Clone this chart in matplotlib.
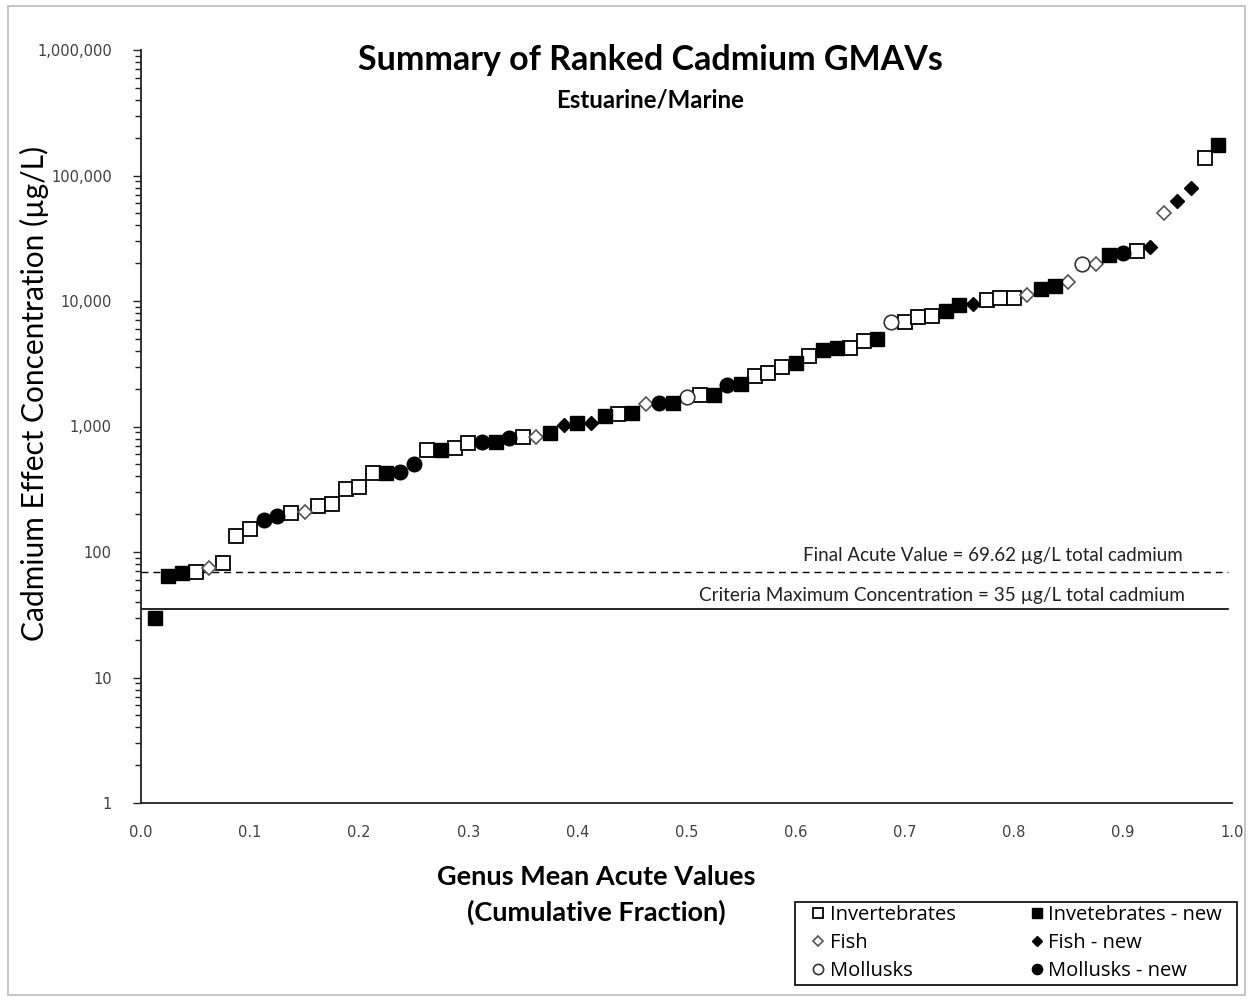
import numpy as np
import matplotlib
matplotlib.use("Agg")
import matplotlib.pyplot as plt
from matplotlib.patches import Rectangle
from matplotlib.ticker import LogLocator, FuncFormatter, NullFormatter

## Data: ranked GMAVs (ug/L) and group of each genus

gmav = [30, 64, 68, 69, 75, 82, 134, 152, 180, 194,
        205, 207, 233, 241, 318, 330, 424, 427, 434, 502,
        650, 655, 674, 739, 750, 753, 805, 820, 826, 888,
        1028, 1060, 1070, 1213, 1259, 1282, 1511, 1539, 1545, 1718,
        1783, 1790, 2142, 2182, 2525, 2668, 2980, 3208, 3648, 4074,
        4220, 4230, 4800, 4980, 6810, 6850, 7460, 7590, 8320, 9290,
        9460, 10190, 10570, 10600, 11170, 12470, 13180, 14170, 19720, 19800,
        23270, 24110, 25010, 26930, 50240, 62660, 79480, 137800, 175000]

group = ["IN", "IN", "IN", "I", "F", "I", "I", "I", "MN", "MN",
         "I", "F", "I", "I", "I", "I", "I", "IN", "MN", "MN",
         "I", "IN", "I", "I", "MN", "IN", "MN", "I", "F", "IN",
         "FN", "IN", "FN", "IN", "I", "IN", "F", "MN", "IN", "M",
         "I", "IN", "MN", "IN", "I", "I", "I", "IN", "I", "IN",
         "IN", "I", "I", "IN", "M", "I", "I", "I", "IN", "IN",
         "FN", "I", "I", "I", "F", "IN", "IN", "F", "M", "F",
         "IN", "MN", "I", "FN", "F", "FN", "FN", "I", "IN"]

fav = 69.62
cmc = 35

n = len(gmav)
frac = np.arange(1, n + 1) / (n + 1)
gmav = np.array(gmav)
group = np.array(group)

## Marker styles per group

styles = {
    "I":  dict(marker="s", ms=10.5, mfc="white", mec="black", mew=1.3, label="Invertebrates"),
    "F":  dict(marker="D", ms=6.8, mfc="white", mec="#555555", mew=1.2, label="Fish"),
    "M":  dict(marker="o", ms=10.5, mfc="white", mec="#333333", mew=1.2, label="Mollusks"),
    "IN": dict(marker="s", ms=10.5, mfc="black", mec="black", mew=1.0, label="Invetebrates - new"),
    "FN": dict(marker="D", ms=6.8, mfc="black", mec="black", mew=1.0, label="Fish - new"),
    "MN": dict(marker="o", ms=10.5, mfc="black", mec="black", mew=1.0, label="Mollusks - new"),
}

fig = plt.figure(figsize=(12.5, 10), dpi=100)
ax = fig.add_axes([0.1128, 0.197, 0.8728, 0.753])

for g in ["I", "F", "M", "IN", "FN", "MN"]:
    mask = group == g
    ax.plot(frac[mask], gmav[mask], linestyle="none", **styles[g])

## Reference lines

ax.axhline(fav, xmax=0.996, color="black", lw=1.0, ls=(0, (5, 3.5)), zorder=1)
ax.axhline(cmc, xmax=0.996, color="black", lw=1.2, zorder=1)
ax.text(0.955, fav * 1.15, "Final Acute Value = 69.62 \u00b5g/L total cadmium",
        ha="right", va="bottom", fontsize=13.5, family="Lato", color="#222222")
ax.text(0.957, cmc * 1.10, "Criteria Maximum Concentration = 35 \u00b5g/L total cadmium",
        ha="right", va="bottom", fontsize=13.7, family="Lato", color="#222222")

## Axes

ax.set_yscale("log")
ax.set_ylim(1, 1e6)
ax.set_xlim(0, 1)
ax.set_xticks(np.arange(0, 1.01, 0.1))
ax.xaxis.set_major_formatter(FuncFormatter(lambda v, p: "%.1f" % v))
ax.yaxis.set_major_locator(LogLocator(base=10, numticks=10))
ax.yaxis.set_minor_locator(LogLocator(base=10, subs=np.arange(2, 10), numticks=10))
ax.yaxis.set_minor_formatter(NullFormatter())
ax.yaxis.set_major_formatter(FuncFormatter(lambda v, p: "{:,.0f}".format(v)))

for s in ["top", "right"]:
    ax.spines[s].set_visible(False)
for s in ["left", "bottom"]:
    ax.spines[s].set_linewidth(1.3)
    ax.spines[s].set_color("#222222")

ax.tick_params(axis="y", which="major", direction="out", length=6, width=1, colors="#222222",
               labelcolor="#404040", labelsize=10.5, pad=15)
ax.tick_params(axis="y", which="minor", direction="out", length=4, width=1, colors="#222222")
ax.tick_params(axis="x", which="major", length=0, labelcolor="#404040", labelsize=10.5, pad=16)

fig.text(0.0275, 0.607, "Cadmium Effect Concentration (\u00b5g/L)", rotation=90, ha="center",
         va="center", family="Lato", fontsize=21.5)
fig.text(0.477, 0.105, "Genus Mean Acute Values\n(Cumulative Fraction)", ha="center", va="center",
         family="Lato", fontweight="bold", fontsize=19.5, linespacing=1.5)

ax.text(0.467, 0.987, "Summary of Ranked Cadmium GMAVs", transform=ax.transAxes, ha="center",
        va="center", family="Lato", fontweight="bold", fontsize=24.5)
ax.text(0.467, 0.934, "Estuarine/Marine", transform=ax.transAxes, ha="center",
        va="center", family="Lato", fontweight="bold", fontsize=17.3)

## Legend (frame drawn separately)

leg = fig.legend(loc="upper left", bbox_to_anchor=(0.6504, 0.0945), ncol=2, markerscale=0.7,
                 frameon=False, handlelength=0.5, handletextpad=0.32, columnspacing=3.8,
                 labelspacing=0.39, borderpad=0, borderaxespad=0,
                 prop=dict(family="Open Sans", size=14.5))

fig.patches.append(Rectangle((795 / 1250, 15 / 1000), 442 / 1250, 83 / 1000,
                             transform=fig.transFigure, fill=False, edgecolor="black", lw=1.2))
fig.patches.append(Rectangle((0.006, 0.005), 0.99, 0.989, transform=fig.transFigure,
                             fill=False, edgecolor="#bbbbbb", lw=1.2))

fig.savefig("out.png", dpi=100)
